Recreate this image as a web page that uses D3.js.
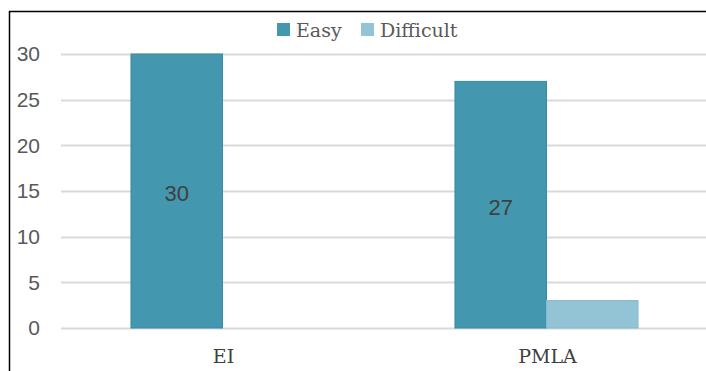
<!DOCTYPE html>
<html>
<head>
<meta charset="utf-8">
<script src="https://cdn.jsdelivr.net/npm/d3@7"></script>
<style>
  body { margin: 0; background: #fff; }
</style>
</head>
<body>
<div id="chart"></div>
<script>
// Chart data
const categories = ["EI", "PMLA"];
const seriesNames = ["Easy", "Difficult"];
const easyValues = [30, 27];
const difficultValues = [0, 3];
const yTicks = [0, 5, 10, 15, 20, 25, 30];

const width = 706;
const height = 371;
const margin = { top: 54, right: -2, bottom: 43, left: 61 };

const colors = { Easy: "#4397ae", Difficult: "#93c4d5" };
const strokes = { Easy: "#3a8aa0", Difficult: "#86b9cb" };

const svg = d3.select("#chart").append("svg")
    .attr("width", width)
    .attr("height", height);

// Outer frame (only top and left edges are visible in the crop)
svg.append("line").attr("x1", 9.5).attr("x2", 9.5).attr("y1", 11).attr("y2", height)
    .attr("stroke", "#000").attr("stroke-width", 1.5);
svg.append("line").attr("x1", 9).attr("x2", width).attr("y1", 11.5).attr("y2", 11.5)
    .attr("stroke", "#000").attr("stroke-width", 1.5);

const x = d3.scaleBand()
    .domain(categories)
    .range([margin.left, width - margin.right])
    .paddingInner(0.435)
    .paddingOuter(0.216);

const x1 = d3.scaleBand()
    .domain(seriesNames)
    .range([0, x.bandwidth()]);

const y = d3.scaleLinear()
    .domain([0, 30])
    .range([height - margin.bottom, margin.top]);

// Gridlines
svg.append("g")
  .selectAll("line")
  .data(yTicks)
  .join("line")
    .attr("x1", margin.left)
    .attr("x2", width)
    .attr("y1", d => Math.round(y(d)) + 0.5)
    .attr("y2", d => Math.round(y(d)) + 0.5)
    .attr("stroke", "#d9d9d9")
    .attr("stroke-width", 2);

// Y tick labels
svg.append("g")
  .selectAll("text")
  .data(yTicks)
  .join("text")
    .attr("x", 40)
    .attr("y", d => y(d))
    .attr("dy", "0.35em")
    .attr("text-anchor", "end")
    .attr("font-family", "Liberation Sans, Arial, sans-serif")
    .attr("font-size", 21)
    .attr("fill", "#595959")
    .text(d => d);

// Bars
const rows = categories.map((c, i) => ({
  category: c,
  values: [
    { key: "Easy", value: easyValues[i] },
    { key: "Difficult", value: difficultValues[i] }
  ]
}));

const groups = svg.append("g")
  .selectAll("g")
  .data(rows)
  .join("g")
    .attr("transform", d => `translate(${x(d.category)},0)`);

groups.selectAll("rect")
  .data(d => d.values)
  .join("rect")
    .attr("x", d => x1(d.key))
    .attr("width", x1.bandwidth())
    .attr("y", d => y(d.value))
    .attr("height", d => y(0) - y(d.value))
    .attr("fill", d => colors[d.key])
    .attr("stroke", d => d.value > 0 ? strokes[d.key] : "none")
    .attr("stroke-width", 1);

// Data labels on Easy bars
groups.selectAll("text.lbl")
  .data(d => d.values.filter(v => v.key === "Easy"))
  .join("text")
    .attr("class", "lbl")
    .attr("x", d => x1(d.key) + x1.bandwidth() / 2)
    .attr("y", d => (y(d.value) + y(0)) / 2)
    .attr("dy", "0.45em")
    .attr("text-anchor", "middle")
    .attr("font-family", "Liberation Sans, Arial, sans-serif")
    .attr("font-size", 22)
    .attr("fill", "#404040")
    .text(d => d.value);

// Category labels
svg.append("g")
  .selectAll("text")
  .data(categories)
  .join("text")
    .attr("x", d => x(d) + x.bandwidth() / 2 + 1)
    .attr("y", 356)
    .attr("dy", "0.35em")
    .attr("text-anchor", "middle")
    .attr("font-family", "DejaVu Serif, serif")
    .attr("font-size", 19)
    .attr("fill", "#404040")
    .text(d => d);

// Legend
const legendItems = [
  { key: "Easy", x: 277 },
  { key: "Difficult", x: 361 }
];
const legend = svg.append("g")
  .selectAll("g")
  .data(legendItems)
  .join("g")
    .attr("transform", d => `translate(${d.x},23)`);

legend.append("rect")
    .attr("width", 13)
    .attr("height", 13)
    .attr("fill", d => colors[d.key]);

legend.append("text")
    .attr("x", 19)
    .attr("y", 7)
    .attr("dy", "0.35em")
    .attr("font-family", "DejaVu Serif, serif")
    .attr("font-size", 19)
    .attr("fill", "#595959")
    .text(d => d.key);
</script>
</body>
</html>
